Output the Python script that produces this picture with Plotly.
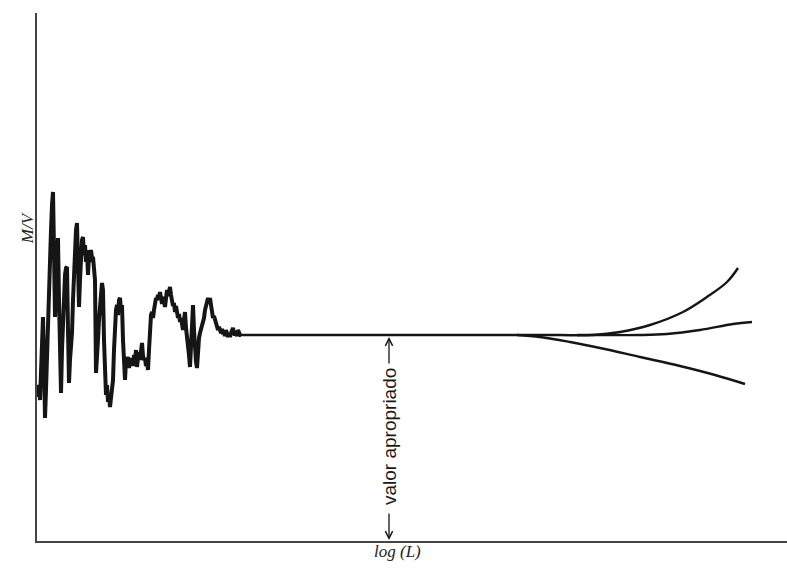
import plotly.graph_objects as go

# Running estimate of M/V while the sample grows (noisy at small L)
log_l = [
    1, 2, 3, 4, 5, 6, 7, 8, 9, 10, 11, 12, 13, 14, 15, 16, 17, 18, 19, 20,
    21, 22, 23, 24, 25, 26, 27, 28, 29, 30, 31, 32, 33, 34, 35, 36, 37, 38, 39, 40,
    41, 42, 43, 44, 45, 46, 47, 48, 49, 50, 51, 52, 53, 54, 55, 56, 57, 58, 59, 60,
    61, 62, 63, 64, 65, 66, 67, 68, 69, 70, 71, 72, 73, 74, 75, 76, 77, 78, 79, 80,
    81, 82, 83, 84, 85, 86, 87, 88, 89, 90, 91, 92, 93, 94, 95, 96, 97, 98, 99, 100,
    101, 102, 103, 104, 105, 106, 107, 108, 109, 110, 111, 112, 113, 114, 115, 116, 117, 118, 119, 120,
    121, 122, 123, 124, 125, 126, 127, 128, 129, 130, 131, 132, 133, 134, 135, 136, 137, 138, 139, 140,
    141, 142, 143, 144, 145, 146, 147, 148, 149, 150, 151, 152, 153, 154, 155, 156, 157, 158, 159, 160,
    161, 162, 163, 164, 165, 166, 167, 168, 169, 170, 171, 172, 173, 174, 175, 176, 177, 178, 179, 180,
    181, 182, 183, 184, 185, 186, 187, 188, 189, 190, 191, 192, 193, 194, 195, 196, 197, 198, 199, 200,
    201, 202, 203, 204,
]
m_over_v = [
    144, 156, 141, 181, 211, 224, 181, 123, 151, 191, 201, 241, 281, 311, 336, 349, 291, 224, 251, 291,
    303, 241, 181, 148, 191, 221, 251, 266, 273, 274, 211, 158, 181, 196, 208, 241, 271, 296, 311, 318,
    281, 234, 261, 286, 301, 304, 286, 296, 279, 291, 266, 286, 279, 291, 283, 284, 271, 261, 168, 181,
    201, 221, 241, 246, 258, 251, 201, 161, 146, 156, 139, 145, 134, 143, 151, 161, 191, 221, 231, 236,
    226, 241, 243, 231, 236, 201, 176, 161, 181, 179, 184, 173, 181, 177, 183, 175, 186, 179, 191, 174,
    183, 189, 181, 191, 198, 185, 181, 183, 175, 179, 171, 191, 211, 226, 229, 223, 231, 236, 243, 241,
    246, 243, 249, 243, 237, 244, 241, 234, 243, 251, 245, 248, 254, 246, 241, 235, 238, 229, 235, 231,
    223, 227, 219, 223, 215, 211, 221, 229, 213, 206, 196, 186, 174, 201, 226, 236, 211, 191, 179, 173,
    191, 203, 208, 211, 214, 219, 223, 231, 236, 241, 243, 239, 243, 236, 229, 223, 225, 221, 215, 213,
    211, 214, 209, 208, 212, 207, 209, 205, 211, 207, 204, 208, 204, 208, 211, 213, 208, 206, 208, 205,
    211, 207, 206, 206,
]

# Settled plateau
plateau_x = [204, 523]
plateau_y = [206, 206]

# Three possible behaviours at very large L
upper_x = [523, 556, 583, 613, 646, 670, 690, 701]
upper_y = [206, 206, 209, 216, 229, 244, 259, 273]
middle_x = [540, 563, 603, 630, 663, 696, 715]
middle_y = [206, 206, 206, 207, 211, 217, 219]
lower_x = [480, 503, 533, 563, 603, 643, 678, 708]
lower_y = [206, 204, 199, 193, 184, 175, 166, 157]

appropriate_value = 206
marker_x = 352

ink = "#151515"
fig = go.Figure()
fig.add_trace(go.Scatter(x=log_l, y=m_over_v, mode="lines",
                         line=dict(color=ink, width=4), hoverinfo="skip"))
fig.add_trace(go.Scatter(x=plateau_x, y=plateau_y, mode="lines",
                         line=dict(color=ink, width=2.4), hoverinfo="skip"))
for bx, by in [(upper_x, upper_y), (middle_x, middle_y), (lower_x, lower_y)]:
    fig.add_trace(go.Scatter(x=bx, y=by, mode="lines", line_shape="spline",
                             line=dict(color=ink, width=2.4, smoothing=1.0), hoverinfo="skip"))

# Double arrow marking the appropriate value
fig.add_annotation(x=marker_x, y=appropriate_value - 2, ax=marker_x, ay=176,
                   xref="x", yref="y", axref="x", ayref="y", text="",
                   showarrow=True, arrowhead=5, arrowsize=1.1, arrowwidth=1.3, arrowcolor=ink)
fig.add_annotation(x=marker_x, y=1, ax=marker_x, ay=29,
                   xref="x", yref="y", axref="x", ayref="y", text="",
                   showarrow=True, arrowhead=5, arrowsize=1.1, arrowwidth=1.3, arrowcolor=ink)
fig.add_annotation(x=marker_x, y=104, xref="x", yref="y", text="valor apropriado",
                   textangle=-90, showarrow=False,
                   font=dict(family="Liberation Sans", size=19, color="#1a1a1a"))

# Axis titles
fig.add_annotation(x=-0.027, y=0.593, xref="paper", yref="paper", text="<i>M/V</i>",
                   textangle=-90, showarrow=False,
                   font=dict(family="Liberation Serif", size=17, color="#222"))
fig.add_annotation(x=0.48, y=-0.0417, xref="paper", yref="paper", text="<i>log (L)</i>",
                   showarrow=False,
                   font=dict(family="Liberation Serif", size=17, color="#222"))

axis_style = dict(showgrid=False, zeroline=False, showticklabels=False, ticks="",
                  showline=True, linecolor="#444444", linewidth=2.2, fixedrange=True)
fig.update_xaxes(range=[0, 750], **axis_style)
fig.update_yaxes(range=[0, 528], **axis_style)
fig.update_layout(width=787, height=573, autosize=False, showlegend=False,
                  margin=dict(l=37, r=0, t=13, b=32),
                  plot_bgcolor="white", paper_bgcolor="white")

fig.write_html("out.html")
